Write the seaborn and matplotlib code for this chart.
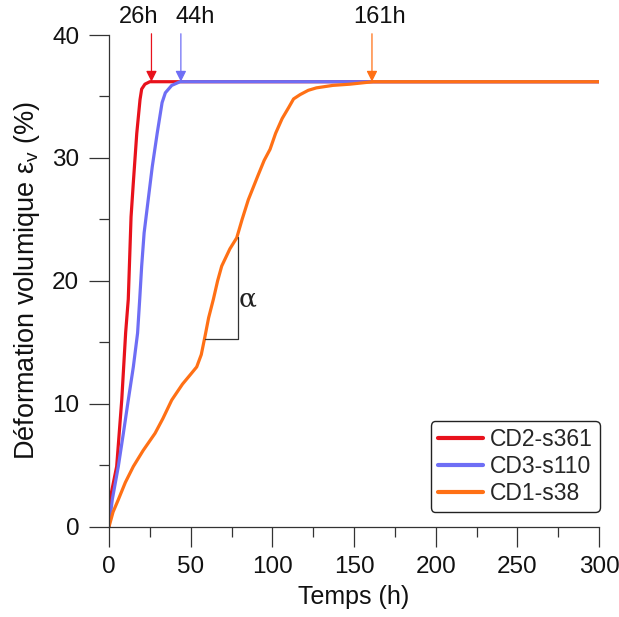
"""Déformation volumique en fonction du temps"""
import matplotlib
matplotlib.use('Agg')
import matplotlib.pyplot as plt
from matplotlib.ticker import MultipleLocator
import seaborn as sns
import pandas as pd

# CD2-s361
red_t = [0, 0.6, 4.7, 7.8, 10.2, 11.8, 13.5, 14.9, 17.0, 19.0, 20.0, 22.0, 25.0, 300]
red_e = [0, 2.2, 4.9, 10.3, 15.8, 18.5, 25.2, 28.0, 32.0, 34.75, 35.6, 36.0, 36.2, 36.2]

# CD3-s110
blue_t = [0, 2.0, 5.7, 8.8, 11.8, 14.9, 17.5, 18.8, 20.0, 21.5, 24.0, 26.5, 29.5, 32.5, 34.5, 38.4, 43.5, 300]
blue_e = [0, 2.2, 4.9, 7.6, 10.3, 13.0, 15.75, 18.5, 21.2, 23.9, 26.6, 29.3, 32.0, 34.5, 35.3, 35.9, 36.2, 36.2]

# CD1-s38
orange_t = [0, 2.5, 5.7, 10.0, 14.9, 20.9, 28.2, 33.0, 38.4, 45.0, 50.0, 53.7, 56.5, 58.8, 61.0, 63.9,
            66.5, 69.0, 74.0, 78.2, 81.5, 85.3, 91.0, 95.0, 98.6, 102.0, 106.0, 110.0, 113.0, 117.0,
            122.0, 127.0, 137.0, 147.6, 161.7, 300]
orange_e = [0, 1.2, 2.2, 3.6, 4.9, 6.2, 7.6, 8.8, 10.3, 11.6, 12.4, 13.0, 14.0, 15.5, 17.0, 18.5,
            20.0, 21.2, 22.6, 23.5, 25.0, 26.6, 28.5, 29.8, 30.7, 32.0, 33.2, 34.1, 34.8, 35.15,
            35.5, 35.7, 35.9, 36.0, 36.2, 36.2]

series = ['CD2-s361', 'CD3-s110', 'CD1-s38']
colors = ['#e8121c', '#6e6ef5', '#ff7015']

# temps de stabilisation annotés
marks_t = [26, 44, 161]
marks_label = ['26h', '44h', '161h']
marks_text_x = [18.4, 52.7, 165.6]
plateau = 36.2

# triangle de pente alpha
slope_x = [58.8, 79.2, 79.2]
slope_y = [15.3, 15.3, 23.6]

df = pd.concat([
    pd.DataFrame({'t': red_t, 'ev': red_e, 'essai': series[0]}),
    pd.DataFrame({'t': blue_t, 'ev': blue_e, 'essai': series[1]}),
    pd.DataFrame({'t': orange_t, 'ev': orange_e, 'essai': series[2]}),
], ignore_index=True)

sns.set_theme(style='ticks')
plt.rcParams['font.family'] = ['Liberation Sans', 'DejaVu Sans']
plt.rcParams['mathtext.fontset'] = 'custom'
plt.rcParams['mathtext.rm'] = 'Liberation Sans'
plt.rcParams['mathtext.it'] = 'Liberation Sans'

fig = plt.figure(figsize=(6.19, 6.17), dpi=100)
ax = fig.add_axes([109 / 619, 1 - 526.7 / 617, 490 / 619, 491.7 / 617])

sns.lineplot(data=df, x='t', y='ev', hue='essai', hue_order=series,
             palette=dict(zip(series, colors)), sort=False, estimator=None,
             linewidth=2.3, ax=ax)

ax.plot(slope_x, slope_y, color='#333333', lw=0.9)
ax.text(85.1, 18.5, 'α', fontsize=19, family='DejaVu Serif', ha='center', va='center', color='#222222')

for t, lab, tx, c in zip(marks_t, marks_label, marks_text_x, colors):
    ax.annotate('', xy=(t, plateau), xytext=(t, 40.1),
                arrowprops=dict(arrowstyle='-|>', color=c, lw=0.9, mutation_scale=16,
                                shrinkA=0, shrinkB=0), annotation_clip=False)
    ax.text(tx, 41.0, lab, fontsize=17, ha='center', va='baseline', color='#111111')

ax.set_xlim(0, 300)
ax.set_ylim(0, 40)
ax.xaxis.set_major_locator(MultipleLocator(50))
ax.xaxis.set_minor_locator(MultipleLocator(25))
ax.yaxis.set_major_locator(MultipleLocator(10))
ax.yaxis.set_minor_locator(MultipleLocator(5))
ax.tick_params(which='major', length=14.4, width=0.9, color='#333333', labelsize=17.5, pad=7,
               labelcolor='#111111')
ax.tick_params(which='minor', length=7.2, width=0.9, color='#333333')
for side in ['top', 'right']:
    ax.spines[side].set_visible(False)
for side in ['left', 'bottom']:
    ax.spines[side].set_color('#333333')
    ax.spines[side].set_linewidth(0.9)

ax.set_xlabel('Temps (h)', fontsize=18, labelpad=5, color='#111111')
ax.set_ylabel(r'Déformation volumique $\varepsilon_{\mathrm{v}}$ (%)', fontsize=19.5, labelpad=7,
              color='#111111')

leg = ax.legend(loc='lower right', bbox_to_anchor=(1.002, 0.0305), borderaxespad=0, fontsize=16.5,
                frameon=True, fancybox=True, edgecolor='#222222', handlelength=2.0,
                borderpad=0.3, labelspacing=0.17, handletextpad=0.3)
leg.get_frame().set_linewidth(1.0)
leg.get_frame().set_alpha(1)
for line in leg.get_lines():
    line.set_linewidth(3)

fig.savefig('out.png', dpi=100)
